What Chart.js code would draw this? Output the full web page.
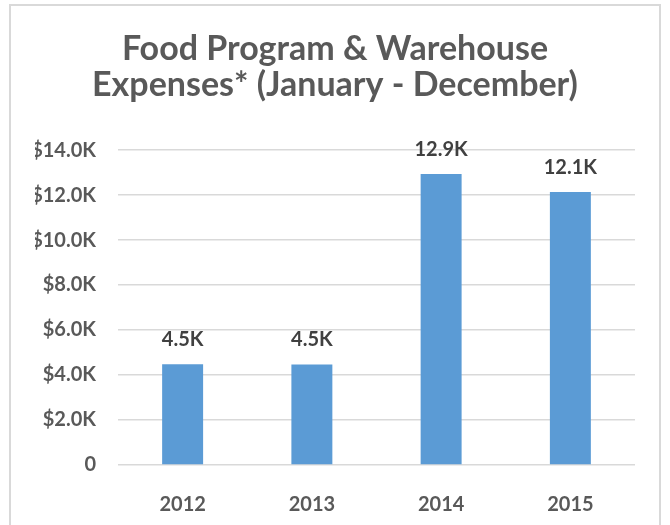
<!DOCTYPE html>
<html>
<head>
<meta charset="utf-8">
<script src="https://cdn.jsdelivr.net/npm/chart.js@4"></script>
<style>
  html, body { margin: 0; padding: 0; background: #fff; overflow: hidden; }
  #wrap { position: relative; width: 670px; height: 525px; }
  #frame { position: absolute; left: 9px; top: 4px; width: 652px; height: 540px; border: 2px solid #d9d9d9; box-sizing: border-box; }
  canvas { position: absolute; left: 0; top: 0; }
</style>
</head>
<body>
<div id="wrap">
  <div id="frame"></div>
  <canvas id="c" width="670" height="525"></canvas>
</div>
<script>
const titleLines = ["Food Program & Warehouse", "Expenses* (January - December)"];
const categories = ["2012", "2013", "2014", "2015"];
const expenses = [4476, 4470, 12933, 12133];
const yTicks = [0, 2000, 4000, 6000, 8000, 10000, 12000, 14000];

const FONT = "Lato, 'Open Sans', sans-serif";

const dataLabels = {
  id: 'dataLabels',
  afterDatasetsDraw(chart) {
    const ctx = chart.ctx;
    const meta = chart.getDatasetMeta(0);
    ctx.save();
    ctx.font = "bold 20px " + FONT;
    ctx.fillStyle = "#404040";
    ctx.textAlign = "center";
    ctx.textBaseline = "alphabetic";
    meta.data.forEach((bar, i) => {
      const v = chart.data.datasets[0].data[i];
      ctx.fillText((v / 1000).toFixed(1) + "K", bar.x, bar.y - 18);
    });
    ctx.restore();
  }
};

new Chart(document.getElementById('c'), {
  type: 'bar',
  data: {
    labels: categories,
    datasets: [{
      data: expenses,
      backgroundColor: '#5B9BD5',
      borderWidth: 0,
      barPercentage: 0.317,
      categoryPercentage: 1.0
    }]
  },
  options: {
    responsive: false,
    animation: false,
    devicePixelRatio: 1,
    layout: { padding: { top: 21, left: 35, right: 35, bottom: 0 } },
    plugins: {
      legend: { display: false },
      tooltip: { enabled: false },
      title: {
        display: true,
        text: titleLines,
        color: '#595959',
        font: { family: FONT, size: 34, weight: 'bold', lineHeight: 1.06 },
        padding: { top: 10, bottom: 47 }
      }
    },
    scales: {
      x: {
        grid: { display: false },
        border: { display: false },
        ticks: { color: '#595959', font: { family: FONT, size: 20, weight: 'bold' }, padding: 20 },
        afterFit(scale) { scale.height = 60; }
      },
      y: {
        min: 0,
        max: 14000,
        afterBuildTicks(scale) { scale.ticks = yTicks.map(v => ({ value: v })); },
        grid: { color: '#d9d9d9', lineWidth: 1.5, drawTicks: false },
        border: { display: false },
        ticks: {
          color: '#595959',
          font: { family: FONT, size: 20, weight: 'bold' },
          padding: 22,
          callback(v) { return v === 0 ? "0" : "$" + (v / 1000).toFixed(1) + "K"; }
        },
        afterFit(scale) { scale.width = 83; }
      }
    }
  },
  plugins: [dataLabels]
});
</script>
</body>
</html>
